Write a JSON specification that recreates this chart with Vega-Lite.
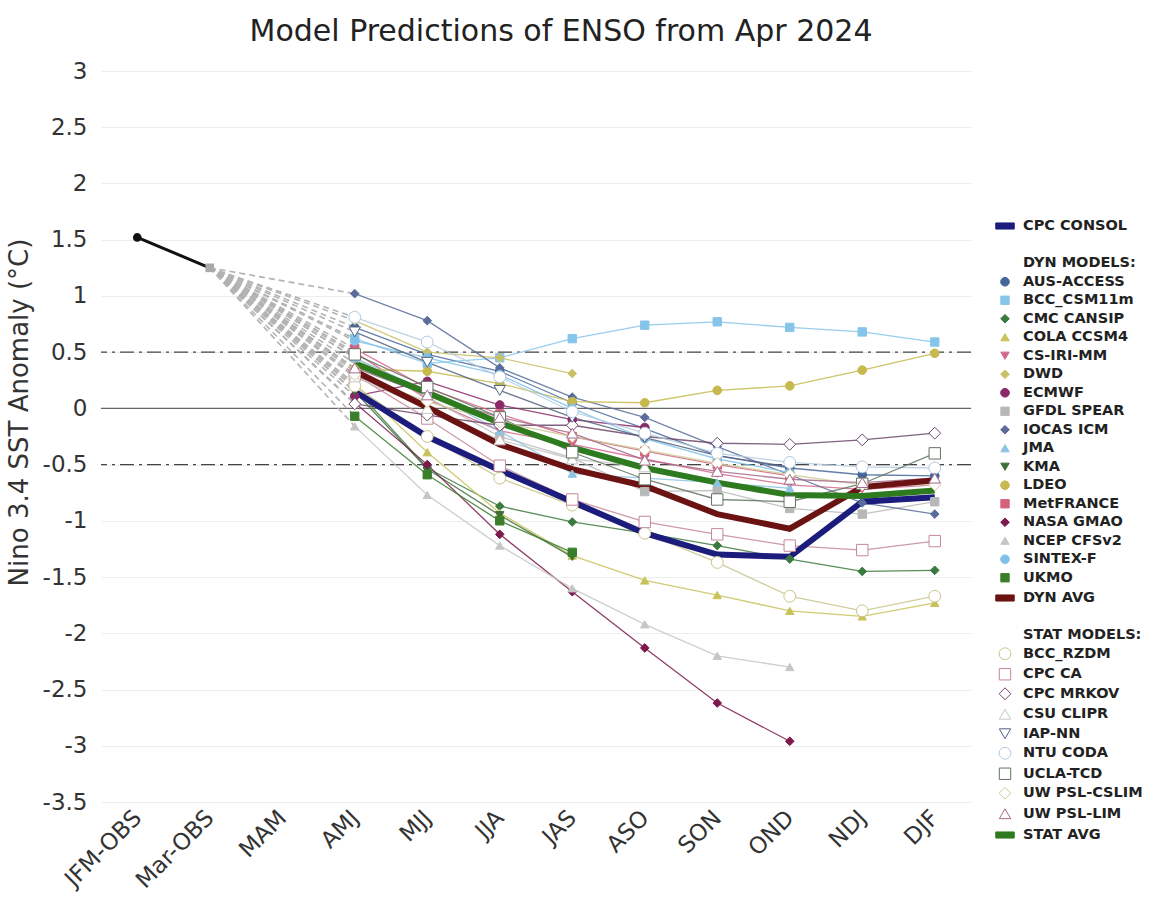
{
  "$schema": "https://vega.github.io/schema/vega-lite/v6.json",
  "width": 870,
  "height": 731,
  "autosize": {"type": "none"},
  "padding": {"left": 101, "top": 71, "right": 193, "bottom": 116},
  "background": "white",
  "title": {"text": "Model Predictions of ENSO from Apr 2024", "font": "DejaVu Sans", "fontSize": 30, "fontWeight": "normal", "color": "#222222", "frame": "group", "offset": 13, "dx": 25},
  "config": {"view": {"stroke": null}, "font": "DejaVu Sans"},
  "datasets": {
    "models": [
      {"model": "OBS", "JFM-OBS": 1.52, "Mar-OBS": 1.25},
      {"model": "AUS-ACCESS", "Mar-OBS": 1.25, "AMJ": 0.72, "MJJ": 0.48, "JJA": 0.33, "JAS": 0.05, "ASO": -0.18, "SON": -0.42, "OND": -0.53, "NDJ": -0.59, "DJF": -0.6},
      {"model": "BCC_CSM11m", "Mar-OBS": 1.25, "AMJ": 0.62, "MJJ": 0.4, "JJA": 0.45, "JAS": 0.62, "ASO": 0.74, "SON": 0.77, "OND": 0.72, "NDJ": 0.68, "DJF": 0.59},
      {"model": "CMC CANSIP", "Mar-OBS": 1.25, "AMJ": 0.18, "MJJ": -0.53, "JJA": -0.87, "JAS": -1.01, "ASO": -1.11, "SON": -1.22, "OND": -1.34, "NDJ": -1.45, "DJF": -1.44},
      {"model": "COLA CCSM4", "Mar-OBS": 1.25, "AMJ": 0.22, "MJJ": -0.39, "JJA": -0.93, "JAS": -1.31, "ASO": -1.53, "SON": -1.66, "OND": -1.8, "NDJ": -1.85, "DJF": -1.73},
      {"model": "CS-IRI-MM", "Mar-OBS": 1.25, "AMJ": 0.5, "MJJ": 0.08, "JJA": -0.2, "JAS": -0.32, "ASO": -0.45, "SON": -0.58, "OND": -0.68, "NDJ": -0.72, "DJF": -0.68},
      {"model": "DWD", "Mar-OBS": 1.25, "AMJ": 0.78, "MJJ": 0.5, "JJA": 0.45, "JAS": 0.31},
      {"model": "ECMWF", "Mar-OBS": 1.25, "AMJ": 0.11, "MJJ": 0.24, "JJA": 0.03, "JAS": -0.1, "ASO": -0.17},
      {"model": "GFDL SPEAR", "Mar-OBS": 1.25, "AMJ": 0.45, "MJJ": 0.1, "JJA": -0.25, "JAS": -0.44, "ASO": -0.74, "SON": -0.73, "OND": -0.89, "NDJ": -0.94, "DJF": -0.83},
      {"model": "IOCAS ICM", "Mar-OBS": 1.25, "AMJ": 1.02, "MJJ": 0.78, "JJA": 0.36, "JAS": 0.1, "ASO": -0.08, "SON": -0.34, "OND": -0.59, "NDJ": -0.84, "DJF": -0.94},
      {"model": "JMA", "Mar-OBS": 1.25, "AMJ": 0.45, "MJJ": 0.15, "JJA": -0.2, "JAS": -0.58, "ASO": -0.62, "SON": -0.66, "OND": -0.71},
      {"model": "KMA", "Mar-OBS": 1.25, "AMJ": 0.15, "MJJ": -0.54, "JJA": -0.95, "JAS": -1.32},
      {"model": "LDEO", "Mar-OBS": 1.25, "AMJ": 0.35, "MJJ": 0.33, "JJA": 0.22, "JAS": 0.06, "ASO": 0.05, "SON": 0.16, "OND": 0.2, "NDJ": 0.34, "DJF": 0.49},
      {"model": "MetFRANCE", "Mar-OBS": 1.25, "AMJ": 0.53, "MJJ": 0.18, "JJA": -0.05, "JAS": -0.25, "ASO": -0.38, "SON": -0.5, "OND": -0.6},
      {"model": "NASA GMAO", "Mar-OBS": 1.25, "AMJ": 0.05, "MJJ": -0.5, "JJA": -1.12, "JAS": -1.63, "ASO": -2.13, "SON": -2.62, "OND": -2.96},
      {"model": "NCEP CFSv2", "Mar-OBS": 1.25, "AMJ": -0.16, "MJJ": -0.77, "JJA": -1.22, "JAS": -1.6, "ASO": -1.92, "SON": -2.2, "OND": -2.3},
      {"model": "SINTEX-F", "Mar-OBS": 1.25, "AMJ": 0.6, "MJJ": 0.45, "JJA": 0.3, "JAS": 0.0, "ASO": -0.27, "SON": -0.45, "OND": -0.57},
      {"model": "UKMO", "Mar-OBS": 1.25, "AMJ": -0.07, "MJJ": -0.59, "JJA": -1.0, "JAS": -1.28},
      {"model": "BCC_RZDM", "Mar-OBS": 1.25, "AMJ": 0.2, "MJJ": -0.25, "JJA": -0.62, "JAS": -0.86, "ASO": -1.11, "SON": -1.37, "OND": -1.67, "NDJ": -1.8, "DJF": -1.67},
      {"model": "CPC CA", "Mar-OBS": 1.25, "AMJ": 0.3, "MJJ": -0.09, "JJA": -0.51, "JAS": -0.81, "ASO": -1.01, "SON": -1.12, "OND": -1.22, "NDJ": -1.26, "DJF": -1.18},
      {"model": "CPC MRKOV", "Mar-OBS": 1.25, "AMJ": 0.04, "MJJ": -0.06, "JJA": -0.15, "JAS": -0.15, "ASO": -0.25, "SON": -0.31, "OND": -0.32, "NDJ": -0.28, "DJF": -0.22},
      {"model": "CSU CLIPR", "Mar-OBS": 1.25, "AMJ": 0.28, "MJJ": 0.0, "JJA": -0.28, "JAS": -0.45, "ASO": -0.52},
      {"model": "IAP-NN", "Mar-OBS": 1.25, "AMJ": 0.68, "MJJ": 0.41, "JJA": 0.16, "JAS": -0.08, "ASO": -0.26, "SON": -0.42, "OND": -0.52},
      {"model": "NTU CODA", "Mar-OBS": 1.25, "AMJ": 0.81, "MJJ": 0.59, "JJA": 0.28, "JAS": -0.03, "ASO": -0.22, "SON": -0.4, "OND": -0.48, "NDJ": -0.52, "DJF": -0.53},
      {"model": "UCLA-TCD", "Mar-OBS": 1.25, "AMJ": 0.48, "MJJ": 0.19, "JJA": -0.08, "JAS": -0.39, "ASO": -0.63, "SON": -0.81, "OND": -0.83, "NDJ": -0.67, "DJF": -0.4},
      {"model": "UW PSL-CSLIM", "Mar-OBS": 1.25, "AMJ": 0.3, "MJJ": 0.06, "JJA": -0.12, "JAS": -0.25, "ASO": -0.37, "SON": -0.49, "OND": -0.59, "NDJ": -0.68, "DJF": -0.68},
      {"model": "UW PSL-LIM", "Mar-OBS": 1.25, "AMJ": 0.36, "MJJ": 0.12, "JJA": -0.08, "JAS": -0.22, "ASO": -0.46, "SON": -0.56, "OND": -0.63, "NDJ": -0.66, "DJF": -0.62},
      {"model": "DYN AVG", "Mar-OBS": 1.25, "AMJ": 0.33, "MJJ": 0.01, "JJA": -0.32, "JAS": -0.54, "ASO": -0.69, "SON": -0.94, "OND": -1.07, "NDJ": -0.7, "DJF": -0.64},
      {"model": "STAT AVG", "Mar-OBS": 1.25, "AMJ": 0.4, "MJJ": 0.14, "JJA": -0.13, "JAS": -0.35, "ASO": -0.53, "SON": -0.66, "OND": -0.77, "NDJ": -0.78, "DJF": -0.73},
      {"model": "CPC CONSOL", "Mar-OBS": 1.25, "AMJ": 0.15, "MJJ": -0.25, "JJA": -0.55, "JAS": -0.83, "ASO": -1.11, "SON": -1.3, "OND": -1.32, "NDJ": -0.83, "DJF": -0.79}
    ]
  },
  "layer": [
    {
      "data": {"values": [{"value": 0}]},
      "mark": {"type": "rule", "color": "#666666", "strokeWidth": 1.3},
      "encoding": {
        "y": {
          "field": "value", "type": "quantitative",
          "scale": {"domain": [-3.5, 3], "nice": false, "zero": false},
          "axis": {
            "title": "Nino 3.4 SST Anomaly (°C)", "titleFontSize": 26, "titleFontWeight": "normal", "titleColor": "#333333", "titlePadding": 10, "titleY": 341,
            "values": [-3.5, -3, -2.5, -2, -1.5, -1, -0.5, 0, 0.5, 1, 1.5, 2, 2.5, 3],
            "labelExpr": "'' + datum.value",
            "labelFontSize": 23, "labelColor": "#333333", "labelPadding": 14,
            "domain": false, "ticks": false, "grid": true, "gridColor": "#ededed"
          }
        }
      }
    },
    {
      "data": {"values": [{"value": 0.5}, {"value": -0.5}]},
      "mark": {"type": "rule", "color": "#444444", "strokeWidth": 1.3, "strokeDash": [14, 5, 3, 5]},
      "encoding": {"y": {"field": "value", "type": "quantitative"}}
    },
    {
      "data": {"name": "models"},
      "transform": [
        {"fold": ["JFM-OBS", "Mar-OBS", "AMJ", "MJJ", "JJA", "JAS", "ASO", "SON", "OND", "NDJ", "DJF"], "as": ["season", "value"]},
        {"filter": "isValid(datum.value)"}
      ],
      "encoding": {
        "x": {
          "field": "season", "type": "ordinal",
          "scale": {"type": "point", "domain": ["JFM-OBS", "Mar-OBS", "MAM", "AMJ", "MJJ", "JJA", "JAS", "ASO", "SON", "OND", "NDJ", "DJF"], "padding": 0.5},
          "axis": {"title": null, "labelAngle": -45, "labelAlign": "right", "labelBaseline": "middle", "labelFontSize": 23, "labelColor": "#333333", "labelPadding": 12, "ticks": false, "domain": false, "grid": false}
        },
        "y": {"field": "value", "type": "quantitative"}
      },
      "layer": [
        {
          "transform": [{"filter": "datum.model != 'OBS' && (datum.season == 'Mar-OBS' || datum.season == 'AMJ')"}],
          "mark": {"type": "line", "color": "#b3b3b3", "strokeWidth": 1.6, "strokeDash": [6, 4]},
          "encoding": {"detail": {"field": "model"}, "order": {"value": null}}
        },
        {
          "transform": [{"filter": "datum.model != 'OBS' && datum.season != 'Mar-OBS' && datum.model != 'DYN AVG' && datum.model != 'STAT AVG' && datum.model != 'CPC CONSOL'"}],
          "mark": {"type": "line", "strokeWidth": 1.3, "opacity": 0.85},
          "encoding": {
            "color": {
              "field": "model", "type": "nominal", "legend": null,
              "scale": {
                "domain": ["CPC CONSOL", "AUS-ACCESS", "BCC_CSM11m", "CMC CANSIP", "COLA CCSM4", "CS-IRI-MM", "DWD", "ECMWF", "GFDL SPEAR", "IOCAS ICM", "JMA", "KMA", "LDEO", "MetFRANCE", "NASA GMAO", "NCEP CFSv2", "SINTEX-F", "UKMO", "DYN AVG", "BCC_RZDM", "CPC CA", "CPC MRKOV", "CSU CLIPR", "IAP-NN", "NTU CODA", "UCLA-TCD", "UW PSL-CSLIM", "UW PSL-LIM", "STAT AVG"],
                "range": ["#1b1c7c", "#46679a", "#86c5ea", "#3b7a3e", "#c9c25a", "#d3688a", "#c8c066", "#8a2868", "#b8b8b8", "#5a6c9a", "#8dc3e3", "#3e6c3a", "#c6ba4e", "#d5617f", "#7b1a4b", "#c6c6c6", "#80c1ea", "#3a7e2c", "#6b1313", "#c9c58c", "#c4889a", "#6b476a", "#c6c6c6", "#53627f", "#b2cae0", "#627361", "#cfcd9a", "#a66a8b", "#2e7b1f"]
              }
            },
            "order": {"value": null}
          }
        },
        {
          "transform": [{"filter": "datum.season != 'Mar-OBS' && (datum.model == 'DYN AVG' || datum.model == 'STAT AVG' || datum.model == 'CPC CONSOL')"}],
          "mark": {"type": "line", "strokeWidth": 6},
          "encoding": {
            "color": {"field": "model", "type": "nominal", "legend": null},
            "order": {"value": null}
          }
        },
        {
          "transform": [{"filter": "datum.model == 'OBS'"}],
          "mark": {"type": "line", "color": "#111111", "strokeWidth": 3},
          "encoding": {"order": {"value": null}}
        },
        {
          "transform": [{"filter": "datum.model != 'OBS' && datum.season != 'Mar-OBS' && datum.model != 'DYN AVG' && datum.model != 'STAT AVG' && datum.model != 'CPC CONSOL'"}],
          "mark": {"type": "point", "opacity": 1, "strokeWidth": 1},
          "encoding": {
            "stroke": {
              "field": "model", "type": "nominal",
              "scale": {
                "domain": ["CPC CONSOL", " ", "DYN MODELS:", "AUS-ACCESS", "BCC_CSM11m", "CMC CANSIP", "COLA CCSM4", "CS-IRI-MM", "DWD", "ECMWF", "GFDL SPEAR", "IOCAS ICM", "JMA", "KMA", "LDEO", "MetFRANCE", "NASA GMAO", "NCEP CFSv2", "SINTEX-F", "UKMO", "DYN AVG", "  ", "STAT MODELS:", "BCC_RZDM", "CPC CA", "CPC MRKOV", "CSU CLIPR", "IAP-NN", "NTU CODA", "UCLA-TCD", "UW PSL-CSLIM", "UW PSL-LIM", "STAT AVG"],
                "range": ["#1b1c7c", "transparent", "transparent", "#46679a", "#86c5ea", "#3b7a3e", "#c9c25a", "#d3688a", "#c8c066", "#8a2868", "#b8b8b8", "#5a6c9a", "#8dc3e3", "#3e6c3a", "#c6ba4e", "#d5617f", "#7b1a4b", "#c6c6c6", "#80c1ea", "#3a7e2c", "#6b1313", "transparent", "transparent", "#c9c58c", "#c4889a", "#6b476a", "#c6c6c6", "#53627f", "#b2cae0", "#627361", "#cfcd9a", "#a66a8b", "#2e7b1f"]
              },
              "legend": {"title": null, "orient": "none", "legendX": 894, "legendY": 145, "direction": "vertical", "labelFont": "DejaVu Sans", "labelFontSize": 14.5, "labelFontWeight": "bold", "labelColor": "#222222", "symbolStrokeWidth": 1, "rowPadding": 3.5, "labelOffset": 8, "symbolLimit": 60, "symbolOpacity": 1}
            },
            "fill": {
              "field": "model", "type": "nominal",
              "scale": {
                "domain": ["CPC CONSOL", " ", "DYN MODELS:", "AUS-ACCESS", "BCC_CSM11m", "CMC CANSIP", "COLA CCSM4", "CS-IRI-MM", "DWD", "ECMWF", "GFDL SPEAR", "IOCAS ICM", "JMA", "KMA", "LDEO", "MetFRANCE", "NASA GMAO", "NCEP CFSv2", "SINTEX-F", "UKMO", "DYN AVG", "  ", "STAT MODELS:", "BCC_RZDM", "CPC CA", "CPC MRKOV", "CSU CLIPR", "IAP-NN", "NTU CODA", "UCLA-TCD", "UW PSL-CSLIM", "UW PSL-LIM", "STAT AVG"],
                "range": ["#1b1c7c", "transparent", "transparent", "#46679a", "#86c5ea", "#3b7a3e", "#c9c25a", "#d3688a", "#c8c066", "#8a2868", "#b8b8b8", "#5a6c9a", "#8dc3e3", "#3e6c3a", "#c6ba4e", "#d5617f", "#7b1a4b", "#c6c6c6", "#80c1ea", "#3a7e2c", "#6b1313", "transparent", "transparent", "#ffffff", "#ffffff", "#ffffff", "#ffffff", "#ffffff", "#ffffff", "#ffffff", "#ffffff", "#ffffff", "#2e7b1f"]
              },
              "legend": {"title": null, "orient": "none", "legendX": 894, "legendY": 145, "direction": "vertical", "labelFont": "DejaVu Sans", "labelFontSize": 14.5, "labelFontWeight": "bold", "labelColor": "#222222", "symbolStrokeWidth": 1, "rowPadding": 3.5, "labelOffset": 8, "symbolLimit": 60, "symbolOpacity": 1}
            },
            "shape": {
              "field": "model", "type": "nominal",
              "scale": {
                "domain": ["CPC CONSOL", " ", "DYN MODELS:", "AUS-ACCESS", "BCC_CSM11m", "CMC CANSIP", "COLA CCSM4", "CS-IRI-MM", "DWD", "ECMWF", "GFDL SPEAR", "IOCAS ICM", "JMA", "KMA", "LDEO", "MetFRANCE", "NASA GMAO", "NCEP CFSv2", "SINTEX-F", "UKMO", "DYN AVG", "  ", "STAT MODELS:", "BCC_RZDM", "CPC CA", "CPC MRKOV", "CSU CLIPR", "IAP-NN", "NTU CODA", "UCLA-TCD", "UW PSL-CSLIM", "UW PSL-LIM", "STAT AVG"],
                "range": ["M-1,-0.33H1V0.33H-1Z", "circle", "circle", "circle", "square", "diamond", "triangle-up", "triangle-down", "diamond", "circle", "square", "diamond", "triangle-up", "triangle-down", "circle", "square", "diamond", "triangle-up", "circle", "square", "M-1,-0.33H1V0.33H-1Z", "circle", "circle", "circle", "square", "diamond", "triangle-up", "triangle-down", "circle", "square", "diamond", "triangle-up", "M-1,-0.33H1V0.33H-1Z"]
              },
              "legend": {"title": null, "orient": "none", "legendX": 894, "legendY": 145, "direction": "vertical", "labelFont": "DejaVu Sans", "labelFontSize": 14.5, "labelFontWeight": "bold", "labelColor": "#222222", "symbolStrokeWidth": 1, "rowPadding": 3.5, "labelOffset": 8, "symbolLimit": 60, "symbolOpacity": 1}
            },
            "size": {
              "field": "model", "type": "nominal",
              "scale": {
                "type": "ordinal",
                "domain": ["CPC CONSOL", " ", "DYN MODELS:", "AUS-ACCESS", "BCC_CSM11m", "CMC CANSIP", "COLA CCSM4", "CS-IRI-MM", "DWD", "ECMWF", "GFDL SPEAR", "IOCAS ICM", "JMA", "KMA", "LDEO", "MetFRANCE", "NASA GMAO", "NCEP CFSv2", "SINTEX-F", "UKMO", "DYN AVG", "  ", "STAT MODELS:", "BCC_RZDM", "CPC CA", "CPC MRKOV", "CSU CLIPR", "IAP-NN", "NTU CODA", "UCLA-TCD", "UW PSL-CSLIM", "UW PSL-LIM", "STAT AVG"],
                "range": [340, 1, 1, 75, 70, 75, 70, 70, 75, 75, 70, 75, 70, 70, 75, 70, 75, 70, 75, 70, 340, 1, 1, 140, 130, 140, 130, 130, 140, 130, 140, 130, 340]
              },
              "legend": {"title": null, "orient": "none", "legendX": 894, "legendY": 145, "direction": "vertical", "labelFont": "DejaVu Sans", "labelFontSize": 14.5, "labelFontWeight": "bold", "labelColor": "#222222", "symbolStrokeWidth": 1, "rowPadding": 3.5, "labelOffset": 8, "symbolLimit": 60, "symbolOpacity": 1}
            }
          }
        },
        {
          "transform": [{"filter": "datum.model == 'OBS'"}],
          "mark": {"type": "point", "filled": true, "opacity": 1, "size": 75},
          "encoding": {
            "color": {"condition": {"test": "datum.season == 'Mar-OBS'", "value": "#aaaaaa"}, "value": "#111111"},
            "shape": {"condition": {"test": "datum.season == 'Mar-OBS'", "value": "square"}, "value": "circle"}
          }
        }
      ]
    }
  ]
}
